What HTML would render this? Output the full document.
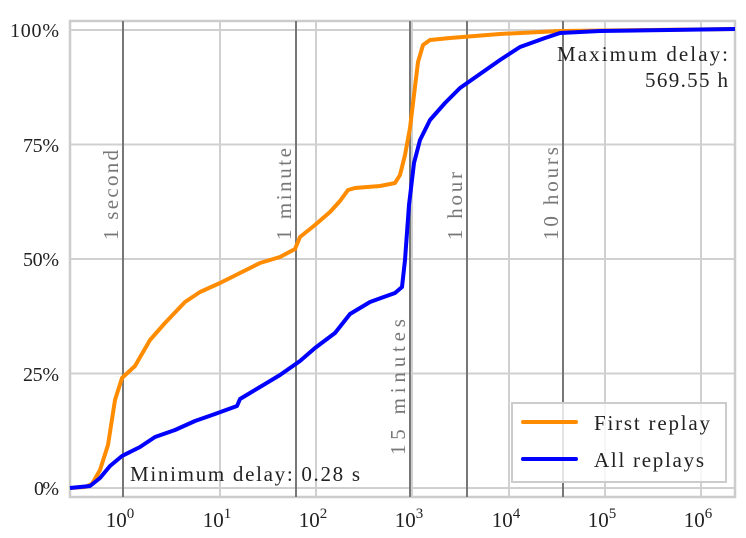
<!DOCTYPE html><html><head><style>body{margin:0;background:#fff}svg{display:block}text{font-family:"Liberation Serif",serif;fill:#222}</style></head><body>
<svg width="746" height="538" viewBox="0 0 746 538">
<rect x="70" y="21" width="665" height="476" fill="#fff" stroke="#ccc" stroke-width="2.5"/>
<g stroke="#d0d0d0" stroke-width="2">
<line x1="70" x2="735" y1="30" y2="30"/><line x1="70" x2="735" y1="144.5" y2="144.5"/><line x1="70" x2="735" y1="259" y2="259"/><line x1="70" x2="735" y1="373.5" y2="373.5"/><line x1="70" x2="735" y1="488" y2="488"/>
<line x1="123" x2="123" y1="21" y2="497"/><line x1="220" x2="220" y1="21" y2="497"/><line x1="316" x2="316" y1="21" y2="497"/><line x1="412" x2="412" y1="21" y2="497"/><line x1="509" x2="509" y1="21" y2="497"/><line x1="605" x2="605" y1="21" y2="497"/><line x1="701" x2="701" y1="21" y2="497"/>
</g>
<g stroke="#777" stroke-width="2">
<line x1="123" x2="123" y1="21" y2="497"/><line x1="296" x2="296" y1="21" y2="497"/><line x1="410" x2="410" y1="21" y2="497"/><line x1="467" x2="467" y1="21" y2="497"/><line x1="563" x2="563" y1="21" y2="497"/>
</g>
<g font-size="21">
<text transform="translate(118,240) rotate(-90)" textLength="90" style="fill:#777">1 second</text>
<text transform="translate(291,240) rotate(-90)" textLength="92" style="fill:#777">1 minute</text>
<text transform="translate(405,455) rotate(-90)" textLength="136" style="fill:#777">15 minutes</text>
<text transform="translate(462,240) rotate(-90)" textLength="68" style="fill:#777">1 hour</text>
<text transform="translate(558,240) rotate(-90)" textLength="93" style="fill:#777">10 hours</text>
</g>
<polyline fill="none" stroke="#ff8c00" stroke-width="4" stroke-linejoin="round" points="70,488 85,487 92,484 100,470 108,445 115,400 122,378 135,366 150,340 165,323 185,302 200,292 220,283 240,273 260,263 280,257 295,249 300,237 315,225 330,212 340,201 348,190 355,188 380,186 395,183 400,175 405,155 410,128 414,95 418,62 423,45 430,40 450,38 500,34 560,31 650,30 735,29"/>
<polyline fill="none" stroke="#0000ff" stroke-width="4" stroke-linejoin="round" points="70,488 90,486 100,478 110,466 122,456 140,447 155,437 175,430 195,421 215,414 237,406 240,399 260,387 280,375 300,361 315,348 335,333 350,314 370,302 395,293 402,287 405,260 409,205 414,163 420,140 430,120 445,103 460,88 480,74 500,60 520,47 545,38 560,33 600,31 735,29"/>
<g font-size="20" text-anchor="end">
<text x="59" y="37" textLength="49">100%</text><text x="59" y="152" textLength="36">75%</text><text x="59" y="266" textLength="36">50%</text><text x="59" y="381" textLength="36">25%</text><text x="59" y="495" textLength="25">0%</text>
</g>
<g font-size="21" text-anchor="middle">
<text x="120" y="527">10<tspan dy="-9" font-size="15">0</tspan></text>
<text x="217" y="527">10<tspan dy="-9" font-size="15">1</tspan></text>
<text x="313" y="527">10<tspan dy="-9" font-size="15">2</tspan></text>
<text x="409" y="527">10<tspan dy="-9" font-size="15">3</tspan></text>
<text x="506" y="527">10<tspan dy="-9" font-size="15">4</tspan></text>
<text x="602" y="527">10<tspan dy="-9" font-size="15">5</tspan></text>
<text x="698" y="527">10<tspan dy="-9" font-size="15">6</tspan></text>
</g>
<text x="130" y="481" font-size="21" textLength="230">Minimum delay: 0.28 s</text>
<text x="557" y="61" font-size="21" textLength="171">Maximum delay:</text>
<text x="728" y="87" font-size="21" text-anchor="end" textLength="83">569.55 h</text>
<rect x="512" y="403" width="214" height="79" fill="#fff" fill-opacity="0.8" stroke="#ccc" stroke-width="2"/>
<line x1="523" x2="576" y1="422" y2="422" stroke="#ff8c00" stroke-width="4" stroke-linecap="round"/>
<line x1="523" x2="576" y1="459" y2="459" stroke="#0000ff" stroke-width="4" stroke-linecap="round"/>
<text x="594" y="430" font-size="21" textLength="116">First replay</text>
<text x="594" y="467" font-size="21" textLength="110">All replays</text>
</svg></body></html>
